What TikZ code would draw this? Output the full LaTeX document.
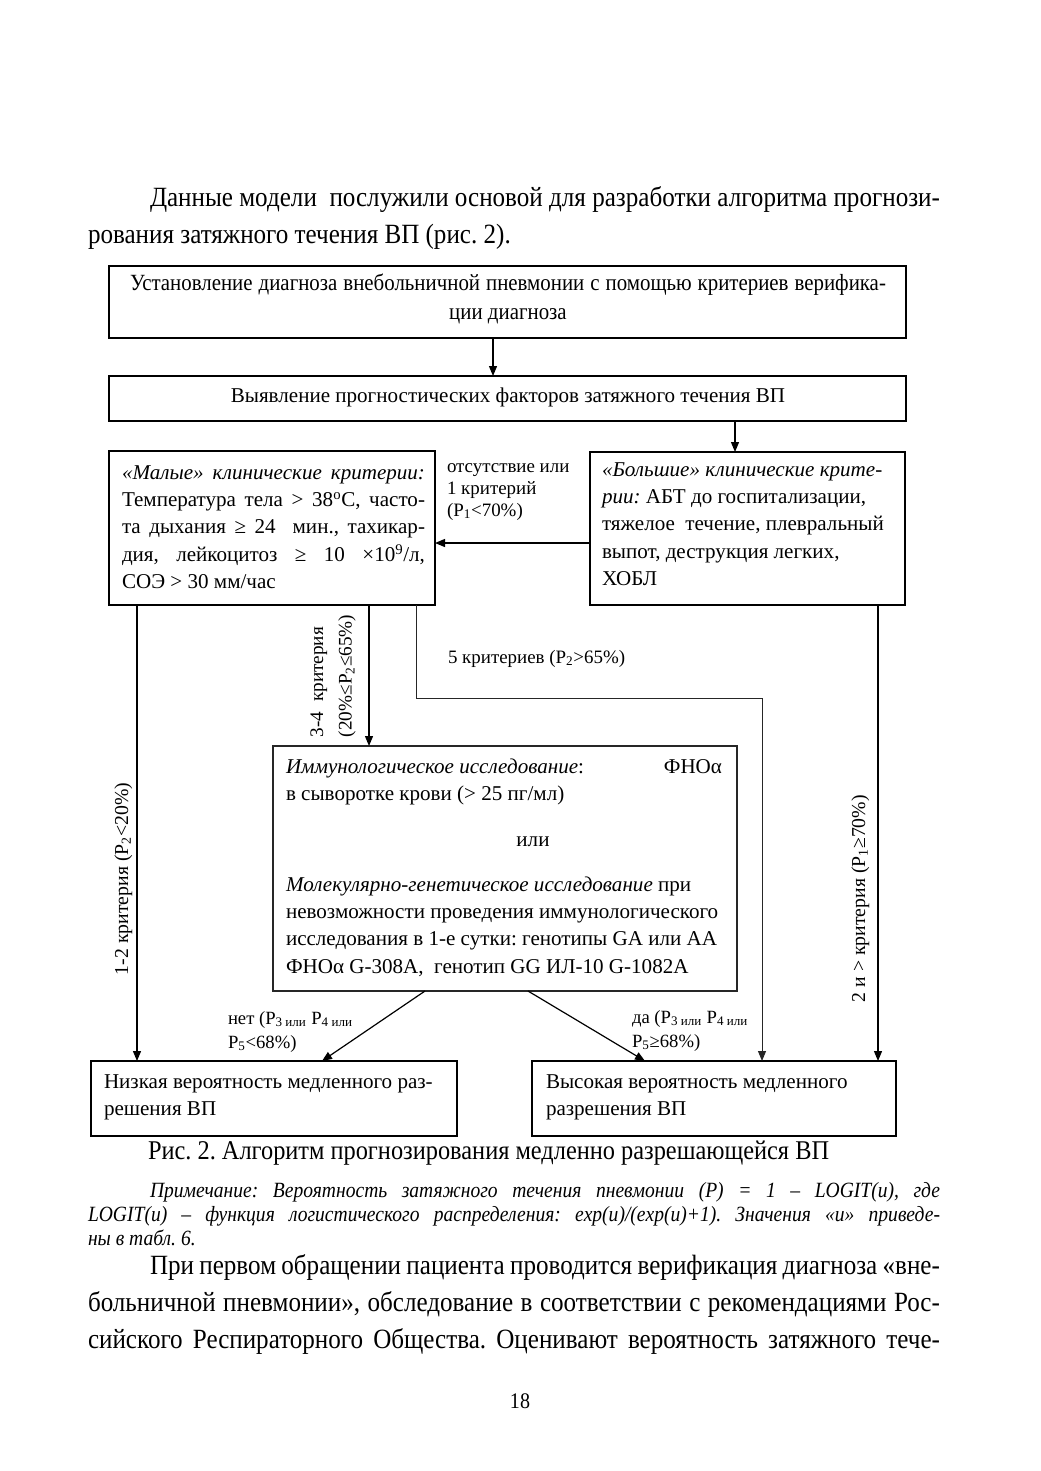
\documentclass[tikz,border=0pt]{standalone}
\usepackage{fontspec}
\setmainfont{Liberation Serif}
\newfontfamily\cond[FakeStretch=0.9]{Liberation Serif}
\usetikzlibrary{arrows.meta}
\newdimen\px \px=0.75pt
\newcommand\jl[2]{\makebox[#1\px][s]{#2}}
\newcommand\bodyfont{\cond\fontsize{20.9pt}{28.1pt}\selectfont}
\newcommand\boxfont{\fontsize{15.8pt}{20.5pt}\selectfont}
\newcommand\boxcfont{\cond\fontsize{17.4pt}{22pt}\selectfont}
\newcommand\lblfont{\fontsize{14.2pt}{16.5pt}\selectfont}
\newcommand\notefont{\cond\fontsize{16.3pt}{18pt}\selectfont\itshape}
\tikzset{
  box/.style={draw, line width=0.9pt, anchor=north west, inner sep=0pt, outer sep=0pt},
  thinbox/.style={box, line width=0.8pt, draw=black!85},
  txt/.style={anchor=base west, inner sep=0pt, outer sep=0pt},
  arr/.style={line width=0.9pt, -{Triangle[length=7.5pt,width=6pt]}},
  thinarr/.style={arr, line width=0.75pt, draw=black!85},
}
\begin{document}
\frenchspacing
\begin{tikzpicture}[x=0.75pt,y=-0.75pt]
\fill[white] (0,0) rectangle (1040,1471);
\useasboundingbox (0,0) rectangle (1040,1471);

% body text top
\node[txt] (p1) at (88,206) {\parbox[t]{852\px}{\bodyfont\hspace*{62\px}\jl{790}{Данные модели\ \ послужили основой для разработки алгоритма прогнози-}\\рования затяжного течения ВП (рис. 2).}};

% boxes
\node[box, minimum width=797\px, minimum height=72\px] (b1) at (109,266) {};
\node[box, minimum width=797\px, minimum height=45\px] (b2) at (109,376) {};
\node[box, minimum width=326\px, minimum height=154\px] (small) at (109,451) {};
\node[box, minimum width=315\px, minimum height=153\px] (big) at (590,452) {};
\node[thinbox, minimum width=464\px, minimum height=245\px] (imm) at (273,746) {};
\node[box, minimum width=366\px, minimum height=75\px] (low) at (91,1061) {};
\node[box, minimum width=364\px, minimum height=75\px] (high) at (532,1061) {};

% box texts
\node[anchor=base, inner sep=0pt] (b1t) at (508,290) {\parbox[t]{760\px}{\boxcfont\centering\jl{756}{Установление диагноза внебольничной пневмонии с помощью критериев верифика-}\\ции диагноза}};
\node[anchor=base, inner sep=0pt] (b2t) at (508,402) {\boxfont Выявление прогностических факторов затяжного течения ВП};
\node[txt] (smallt) at (122,479) {\parbox[t]{303\px}{\boxfont
\jl{303}{\textit{«Малые» клинические критерии:}}\\
\jl{303}{Температура тела > 38\textsuperscript{o}С, часто-}\\
\jl{303}{та дыхания ≥ 24\ \ мин., тахикар-}\\
\jl{303}{дия, лейкоцитоз ≥ 10 ×10\textsuperscript{9}/л,}\\
СОЭ > 30 мм/час}};
\node[txt] (bigt) at (602,476) {\parbox[t]{300\px}{\boxfont
\textit{«Большие» клинические крите-}\\
\textit{рии:} АБТ до госпитализации,\\
тяжелое\ \ течение, плевральный\\
выпот, деструкция легких,\\
ХОБЛ}};
\node[txt] (immt1) at (286,773) {\parbox[t]{436\px}{\boxfont
\makebox[436\px][l]{\textit{Иммунологическое исследование}:\hfill ФНОα}\\
в сыворотке крови (> 25 пг/мл)}};
\node[anchor=base, inner sep=0pt] (immor) at (533,846) {\boxfont или};
\node[txt] (immt2) at (286,891) {\parbox[t]{445\px}{\boxfont
\textit{Молекулярно-генетическое исследование} при\\
невозможности проведения иммунологического\\
исследования в 1-е сутки: генотипы GA или AA\\
ФНОα G-308A,\ \ генотип GG ИЛ-10 G-1082A}};
\node[txt] (lowt) at (104,1088) {\parbox[t]{345\px}{\boxfont Низкая вероятность медленного раз-\\решения ВП}};
\node[txt] (hight) at (546,1088) {\parbox[t]{345\px}{\boxfont Высокая вероятность медленного\\разрешения ВП}};

% labels
\node[txt] (l01) at (447,472) {\parbox[t]{140\px}{\lblfont отсутствие или\\1 критерий\\(P\textsubscript{1}<70\%)}};
\node[txt] (l5) at (448,663) {\lblfont 5 критериев (P\textsubscript{2}>65\%)};
\node[txt, rotate=90] (l34) at (323,737) {\parbox[t]{140\px}{\fontsize{14.4pt}{21.5pt}\selectfont 3-4\ \ критерия\\(20\%≤P\textsubscript{2}≤65\%)}};
\node[txt, rotate=90] (l12) at (128,975) {\fontsize{14.8pt}{17pt}\selectfont 1-2 критерия (P\textsubscript{2}<20\%)};
\node[txt, rotate=90] (l2m) at (865,1002) {\fontsize{14.8pt}{17pt}\selectfont 2 и > критерия (P\textsubscript{1}≥70\%)};
\node[txt] (lno) at (228,1024) {\parbox[t]{140\px}{\fontsize{14pt}{18pt}\selectfont нет (P\textsubscript{3 или} P\textsubscript{4 или}\\P\textsubscript{5}<68\%)}};
\node[txt] (lyes) at (632,1023) {\parbox[t]{140\px}{\fontsize{14pt}{18pt}\selectfont да (P\textsubscript{3 или} P\textsubscript{4 или}\\P\textsubscript{5}≥68\%)}};

% connector coordinates
\coordinate (xa) at (493,0);
\coordinate (xb) at (735,0);
\coordinate (ya) at (0,543);
\coordinate (xc) at (137,0);
\coordinate (xd) at (369,0);
\coordinate (xe) at (416,0);
\coordinate (yf) at (0,698);
\coordinate (xg) at (762,0);
\coordinate (xk) at (878,0);
\coordinate (xh) at (425,0);
\coordinate (xi) at (322,0);
\coordinate (xj) at (528,0);
\coordinate (xl) at (645,0);

\draw[arr] (b1.south -| xa) -- (b2.north -| xa);
\draw[arr] (b2.south -| xb) -- (big.north -| xb);
\draw[arr] (big.west |- ya) -- (small.east |- ya);
\draw[arr] (small.south -| xc) -- (low.north -| xc);
\draw[arr] (small.south -| xd) -- (imm.north -| xd);
\draw[thinarr] (small.south -| xe) -- (xe |- yf) -- (xg |- yf) -- (high.north -| xg);
\draw[arr] (big.south -| xk) -- (high.north -| xk);
\draw[arr] (imm.south -| xh) -- (low.north -| xi);
\draw[arr] (imm.south -| xj) -- (high.north -| xl);

% caption and note
\node[txt] (cap) at (148,1159) {\cond\fontsize{20.3pt}{24pt}\selectfont Рис. 2. Алгоритм прогнозирования медленно разрешающейся ВП};
\node[txt] (note) at (88,1197) {\parbox[t]{852\px}{\notefont\hspace*{62\px}\jl{790}{Примечание: Вероятность затяжного течения пневмонии (P) = 1 – LOGIT(u), где}\\
\jl{852}{LOGIT(u) – функция логистического распределения: exp(u)/(exp(u)+1). Значения «u» приведе-}\\
ны в табл. 6.}};

% body text bottom
\node[txt] (p2) at (88,1274) {\parbox[t]{852\px}{\bodyfont\hspace*{62\px}\jl{790}{При первом обращении пациента проводится верификация диагноза «вне-}\\
\jl{852}{больничной пневмонии», обследование в соответствии с рекомендациями Рос-}\\
\jl{852}{сийского Респираторного Общества. Оценивают вероятность затяжного тече-}}};

\node[anchor=base, inner sep=0pt] (pg) at (520,1408) {\cond\fontsize{16.7pt}{20pt}\selectfont 18};
\end{tikzpicture}
\end{document}
